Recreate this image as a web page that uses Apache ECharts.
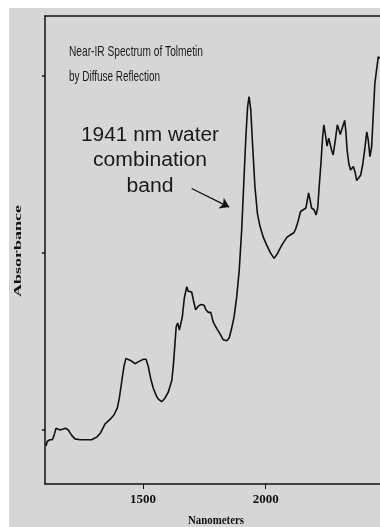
<!DOCTYPE html>
<html>
<head>
<meta charset="utf-8">
<script src="https://cdn.jsdelivr.net/npm/echarts@6/dist/echarts.min.js"></script>
<style>
  html, body { margin: 0; padding: 0; background: #ffffff; }
  #chart { width: 380px; height: 527px; }
</style>
</head>
<body>
<div id="chart"></div>
<script>
// Near-IR diffuse reflectance spectrum of tolmetin
const wavelengths = [
  1104, 1109, 1120, 1130, 1137, 1145, 1150, 1161, 1171, 1184, 1195, 1209, 1222, 1243, 1270, 1290,
  1311, 1327, 1345, 1365, 1381, 1395, 1403, 1413, 1422, 1430, 1437, 1453, 1467, 1480, 1501, 1512,
  1521, 1531, 1542, 1555, 1562, 1576, 1589, 1603, 1617, 1623, 1629, 1635, 1641, 1648, 1653, 1660,
  1668, 1678, 1684, 1691, 1698, 1705, 1714, 1725, 1736, 1743, 1749, 1756, 1766, 1776, 1786, 1800,
  1813, 1827, 1841, 1851, 1861, 1871, 1882, 1892, 1902, 1911, 1919, 1926, 1932, 1939, 1947, 1956,
  1966, 1977, 1990, 2004, 2020, 2034, 2047, 2058, 2070, 2087, 2103, 2115, 2123, 2133, 2142, 2153,
  2164, 2171, 2175, 2180, 2187, 2197, 2205, 2212, 2218, 2225, 2232, 2237, 2244, 2250, 2257, 2262,
  2269, 2275, 2284, 2292, 2299, 2304, 2314, 2322, 2327, 2332, 2339, 2346, 2353, 2357, 2364, 2371,
  2377, 2387, 2395, 2405, 2412, 2418, 2425, 2432, 2438, 2445, 2452, 2459, 2466
];
const absorbance = [
  0.182, 0.187, 0.189, 0.189, 0.194, 0.202, 0.203, 0.200, 0.201, 0.202, 0.200, 0.194, 0.190, 0.189, 0.189, 0.189,
  0.192, 0.197, 0.207, 0.212, 0.217, 0.225, 0.236, 0.255, 0.272, 0.281, 0.283, 0.278, 0.275, 0.277, 0.280, 0.280,
  0.272, 0.258, 0.247, 0.238, 0.235, 0.232, 0.236, 0.243, 0.256, 0.272, 0.294, 0.317, 0.321, 0.313, 0.311, 0.328,
  0.349, 0.362, 0.357, 0.359, 0.356, 0.347, 0.336, 0.340, 0.342, 0.344, 0.341, 0.336, 0.333, 0.333, 0.322, 0.315,
  0.309, 0.302, 0.301, 0.304, 0.315, 0.328, 0.351, 0.381, 0.426, 0.482, 0.531, 0.565, 0.577, 0.562, 0.520, 0.475,
  0.445, 0.430, 0.418, 0.409, 0.400, 0.394, 0.399, 0.405, 0.411, 0.418, 0.421, 0.423, 0.428, 0.437, 0.447, 0.449,
  0.451, 0.462, 0.468, 0.461, 0.451, 0.449, 0.443, 0.451, 0.475, 0.501, 0.531, 0.545, 0.533, 0.521, 0.530, 0.528,
  0.516, 0.511, 0.528, 0.545, 0.539, 0.534, 0.543, 0.550, 0.537, 0.516, 0.501, 0.494, 0.496, 0.498, 0.492, 0.482,
  0.481, 0.488, 0.499, 0.520, 0.537, 0.528, 0.509, 0.520, 0.554, 0.592, 0.607, 0.622, 0.620
];
const xTicks = [1500, 2000];
const yTicks = [0.2, 0.4, 0.6];

const titleLines = ['Near-IR Spectrum of Tolmetin', 'by Diffuse Reflection'];
const noteLines = ['1941 nm water', 'combination', 'band'];
// arrow pointing at the 1941 nm band: [wavelength, absorbance] of tail and head
const arrowTail = [1698, 0.473];
const arrowHead = [1851, 0.452];

const points = wavelengths.map((w, i) => [w, absorbance[i]]);

// horizontal scale needed to fit a string into a given pixel width
const measureCtx = document.createElement('canvas').getContext('2d');
function fitScale(str, font, width) {
  measureCtx.font = font;
  return width / measureCtx.measureText(str).width;
}

const titleFont = '15px "Liberation Sans Narrow", "Liberation Sans", sans-serif';
const noteFont = '20px "Liberation Sans", Arial, sans-serif';
const axisFont = 'bold 11px "Liberation Serif", serif';
const sideFont = 'bold 10px "Liberation Serif", serif';

const chart = echarts.init(document.getElementById('chart'), null, { renderer: 'canvas' });

const axisLineStyle = { color: '#111', width: 1.5 };

chart.setOption({
  animation: false,
  backgroundColor: '#ffffff',
  grid: { left: 45, top: 16, right: 0, bottom: 43 },
  xAxis: [
    {
      type: 'value', min: 1100, max: 2466,
      axisLine: { show: true, lineStyle: axisLineStyle },
      axisTick: { show: true, length: 5, customValues: xTicks, lineStyle: { color: '#111', width: 1 } },
      axisLabel: {
        show: true, customValues: xTicks, margin: 9,
        formatter: v => String(v),
        fontFamily: '"Liberation Serif", serif', fontWeight: 'bold', fontSize: 13, color: '#111'
      },
      splitLine: { show: false }
    },
    {
      type: 'value', min: 1100, max: 2466, position: 'top',
      axisLine: { show: true, lineStyle: axisLineStyle },
      axisTick: { show: false }, axisLabel: { show: false }, splitLine: { show: false }
    }
  ],
  yAxis: {
    type: 'value', min: 0.139, max: 0.668,
    axisLine: { show: true, lineStyle: axisLineStyle },
    axisTick: { show: true, length: 3, customValues: yTicks, lineStyle: { color: '#111', width: 1.5 } },
    axisLabel: { show: false },
    splitLine: { show: false }
  },
  graphic: [
    { type: 'rect', z: -10, shape: { x: 9, y: 8, width: 371, height: 519 }, style: { fill: '#d6d6d6' } },
    {
      type: 'text', x: 69, y: 52, scaleX: fitScale(titleLines[0], titleFont, 134),
      style: { text: titleLines[0], font: titleFont, fill: '#1a1a1a', textAlign: 'left', textVerticalAlign: 'middle' }
    },
    {
      type: 'text', x: 69, y: 77, scaleX: fitScale(titleLines[1], titleFont, 91),
      style: { text: titleLines[1], font: titleFont, fill: '#1a1a1a', textAlign: 'left', textVerticalAlign: 'middle' }
    },
    {
      type: 'text', x: 150, y: 135, scaleX: fitScale(noteLines[0], noteFont, 138),
      style: { text: noteLines[0], font: noteFont, fill: '#1a1a1a', textAlign: 'center', textVerticalAlign: 'middle' }
    },
    {
      type: 'text', x: 150, y: 160, scaleX: fitScale(noteLines[1], noteFont, 114),
      style: { text: noteLines[1], font: noteFont, fill: '#1a1a1a', textAlign: 'center', textVerticalAlign: 'middle' }
    },
    {
      type: 'text', x: 150, y: 186, scaleX: fitScale(noteLines[1], noteFont, 114),
      style: { text: noteLines[2], font: noteFont, fill: '#1a1a1a', textAlign: 'center', textVerticalAlign: 'middle' }
    },
    {
      type: 'text', x: 216, y: 521, scaleX: fitScale('Nanometers', axisFont, 56), scaleY: 1.15,
      style: { text: 'Nanometers', font: axisFont, fill: '#111', textAlign: 'center', textVerticalAlign: 'middle' }
    },
    {
      type: 'text', x: 18, y: 251, rotation: Math.PI / 2,
      scaleX: fitScale('Absorbance', sideFont, 92),
      style: { text: 'Absorbance', font: sideFont, fill: '#111', textAlign: 'center', textVerticalAlign: 'middle' }
    }
  ],
  series: [{
    type: 'line',
    data: points,
    showSymbol: false,
    smooth: false,
    clip: true,
    lineStyle: { color: '#111', width: 1.6 },
    markLine: {
      silent: true,
      symbol: ['none', 'arrow'],
      symbolSize: 9,
      label: { show: false },
      lineStyle: { color: '#111', width: 1.3, type: 'solid' },
      data: [[{ coord: arrowTail }, { coord: arrowHead }]]
    }
  }]
});
</script>
</body>
</html>
